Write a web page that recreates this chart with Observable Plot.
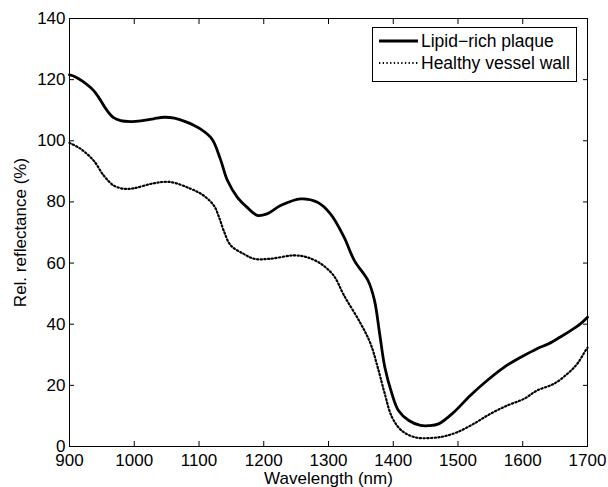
<!DOCTYPE html>
<html>
<head>
<meta charset="utf-8">
<script src="https://cdn.jsdelivr.net/npm/d3@7"></script>
<script src="https://cdn.jsdelivr.net/npm/@observablehq/plot@0.6"></script>
<style>
  html, body { margin: 0; padding: 0; background: #fff; }
  #wrap { position: relative; width: 608px; height: 487px; font-family: "Liberation Sans", Arial, Helvetica, sans-serif; }
  #legend { position: absolute; left: 372px; top: 27px; width: 203px; height: 53px; border: 1px solid #000; background: #fff; font-size: 17.5px; }
  .row { position: absolute; left: 0; height: 22px; display: flex; align-items: center; white-space: nowrap; }
  .row svg { margin-left: 6px; margin-right: 3px; }
</style>
</head>
<body>
<div id="wrap"></div>
<script>
// Lipid-rich plaque (solid)
const plaqueWavelength = [900, 910, 920, 937, 945, 958, 968, 979, 995, 1010, 1030, 1046, 1062, 1080, 1102, 1120, 1133, 1144, 1159, 1174, 1190, 1205, 1226, 1257, 1283, 1303, 1324, 1340, 1361, 1371, 1379, 1387, 1398, 1408, 1424, 1442, 1455, 1470, 1494, 1519, 1545, 1571, 1597, 1622, 1640, 1658, 1674, 1689, 1700];
const plaqueValue      = [121.6, 120.8, 119.5, 116.5, 114.2, 109.9, 107.6, 106.6, 106.3, 106.5, 107.2, 107.7, 107.4, 106.2, 103.9, 100.6, 94.0, 87.0, 81.6, 78.3, 75.6, 76.1, 78.8, 81.0, 79.9, 76.1, 68.5, 60.8, 54.3, 47.8, 36.9, 25.9, 17.2, 11.8, 8.5, 6.9, 6.8, 7.4, 11.3, 16.7, 21.6, 25.9, 29.2, 32.0, 33.6, 35.8, 37.9, 40.1, 42.3];

// Healthy vessel wall (dotted)
const healthyWavelength = [900, 917, 937, 953, 968, 984, 1000, 1030, 1056, 1087, 1107, 1123, 1131, 1138, 1149, 1169, 1185, 1210, 1246, 1267, 1288, 1308, 1324, 1350, 1365, 1376, 1387, 1398, 1413, 1434, 1460, 1480, 1499, 1524, 1550, 1576, 1602, 1622, 1648, 1669, 1684, 1697, 1700];
const healthyValue      = [99.3, 97.4, 93.6, 88.6, 85.4, 84.3, 84.5, 86.1, 86.5, 84.3, 82.1, 78.8, 75.0, 70.7, 65.8, 63.0, 61.4, 61.4, 62.5, 61.9, 59.8, 55.9, 49.4, 40.1, 33.6, 25.9, 17.2, 9.6, 5.2, 3.0, 2.8, 3.4, 4.7, 7.4, 10.7, 13.4, 15.6, 18.3, 20.5, 23.8, 27.0, 31.4, 32.3];

const xTicks = [900, 1000, 1100, 1200, 1300, 1400, 1500, 1600, 1700];
const yTicks = [0, 20, 40, 60, 80, 100, 120, 140];
const seriesNames = ["Lipid\u2212rich plaque", "Healthy vessel wall"];

const plaque = plaqueWavelength.map((w, i) => ({w, v: plaqueValue[i]}));
const healthy = healthyWavelength.map((w, i) => ({w, v: healthyValue[i]}));

const fmt = d3.format("d");
const chart = Plot.plot({
  width: 608,
  height: 487,
  marginLeft: 69,
  marginRight: 21,
  marginTop: 18,
  marginBottom: 41,
  style: {fontFamily: '"Liberation Sans", Arial, Helvetica, sans-serif', fontSize: "17px", color: "#000", background: "#fff"},
  x: {domain: [900, 1700]},
  y: {domain: [0, 140]},
  marks: [
    Plot.frame({stroke: "#000", strokeWidth: 1}),
    Plot.line(healthy, {x: "w", y: "v", curve: "catmull-rom", stroke: "#000", strokeWidth: 2.2, strokeDasharray: "1.3 2.4"}),
    Plot.line(plaque, {x: "w", y: "v", curve: "catmull-rom", stroke: "#000", strokeWidth: 2.8}),
    Plot.axisX({ticks: xTicks, tickSize: -5, tickPadding: 12, tickFormat: fmt, label: "Wavelength (nm)", labelAnchor: "center", labelArrow: "none", labelOffset: 37, fontSize: "17px"}),
    Plot.axisX({anchor: "top", ticks: xTicks, tickSize: -5, tickFormat: () => "", label: null}),
    Plot.axisY({ticks: yTicks, tickSize: -5, tickPadding: 9, tickFormat: fmt, label: "Rel. reflectance (%)", labelAnchor: "center", labelArrow: "none", labelOffset: 56, fontSize: "17px"}),
    Plot.axisY({anchor: "right", ticks: yTicks, tickSize: -5, tickFormat: () => "", label: null})
  ]
});

const wrap = document.getElementById("wrap");
wrap.appendChild(chart);

const legend = document.createElement("div");
legend.id = "legend";
const dashes = [null, "1.3 2.4"];
seriesNames.forEach((name, i) => {
  const row = document.createElement("div");
  row.className = "row";
  row.style.top = (2 + i * 22) + "px";
  const s = d3.create("svg").attr("width", 39).attr("height", 10);
  s.append("line").attr("x1", 0).attr("x2", 39).attr("y1", 5).attr("y2", 5)
    .attr("stroke", "#000").attr("stroke-width", i === 0 ? 2.8 : 2.2)
    .attr("stroke-dasharray", dashes[i]);
  row.appendChild(s.node());
  const t = document.createElement("span");
  t.textContent = name;
  row.appendChild(t);
  legend.appendChild(row);
});
wrap.appendChild(legend);
</script>
</body>
</html>
